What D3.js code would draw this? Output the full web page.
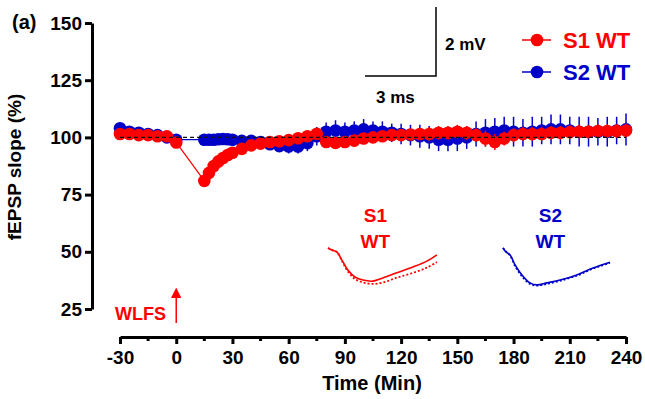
<!DOCTYPE html>
<html lang="en">
<head>
  <meta charset="UTF-8">
  <script src="https://d3js.org/d3.v7.min.js"></script>
  <title>fEPSP slope</title>
  <style>
    body { margin: 0; background: #fff; }
    text { font-family: "Liberation Sans", Arial, sans-serif; font-weight: bold; }
  </style>
</head>
<body>
  <svg id="chart" width="645" height="399"></svg>
  <script>
    // time points (min)
    const times = [-30, -25, -20, -15, -10, -5, 0,
      15, 17.5, 20, 22.5, 25, 27.5, 30,
      35, 40, 45, 50, 55, 60, 65, 70, 75, 80, 85, 90, 95, 100, 105, 110, 115, 120, 125, 130,
      135, 140, 145, 150, 155, 160, 165, 170, 175, 180, 185, 190, 195, 200, 205, 210, 215, 220,
      225, 230, 235, 240];

    // S1 WT (red)
    const s1Values = [101.5, 101.5, 101, 101, 100.5, 100.5, 97.8,
      81, 84.5, 87.5, 89.5, 91, 92.3, 93.3,
      95, 96.5, 97.3, 98, 98.3, 98.8, 99.6, 100.5, 101.6, 98, 97.6, 98, 98.6, 99.5, 100, 100.5,
      101, 101, 101.3, 101.5, 101.5, 102, 102, 102.5, 102, 101, 99.5, 98, 99.5, 101, 101.5,
      101.5, 101.5, 102, 102, 102.3, 102.5, 102.5, 102.8, 102.8, 102.8, 103];
    const s1Err = [1, 1, 1, 1, 1, 1, 1,
      1.5, 1.5, 1.5, 1.5, 1.5, 1.5, 1.5,
      1.5, 1.5, 1.5, 1.5, 1.5, 1.5, 1.5, 1.5, 2, 2, 2, 2, 2, 2, 2, 2, 2, 2, 2, 2,
      3, 3, 3, 3, 3, 3, 3.5, 3.5, 3, 3, 3, 3, 3, 3, 3, 3, 3, 3, 3, 3, 3, 3];

    // S2 WT (blue)
    const s2Values = [104, 102.5, 102, 101.5, 101, 100, 99,
      99, 99, 99, 99.2, 99.3, 99.2, 99,
      98.5, 98.5, 98, 97, 96.2, 96, 96, 97.5, 100.5, 102.5, 103, 102.5, 103, 103.5, 103, 102.5,
      102, 101.5, 101, 100.5, 100, 99, 99, 99.5, 100, 101.5, 102, 102.5, 103, 102.5, 102,
      102.5, 103, 103.5, 103.5, 103, 102.5, 102.5, 102.5, 102.5, 103, 103.5];
    const s2Err = [2, 1.5, 1.5, 1.5, 1.5, 1.5, 1.5,
      1.5, 1.5, 1.5, 1.5, 1.5, 1.5, 1.5,
      2, 2, 2, 2.5, 2.5, 3, 3, 3.5, 4, 4, 4.5, 4, 4, 4.5, 4, 4.5, 4, 4.5, 4.5, 5,
      5, 5, 5, 5.5, 5, 5.5, 6, 6, 6, 6.5, 6, 6.5, 6, 6.5, 6.5, 6, 6.5, 6.5, 6, 6.5, 6, 7];

    const xTicks = [-30, 0, 30, 60, 90, 120, 150, 180, 210, 240];
    const xMinorTicks = [-15, 15, 45, 75, 105, 135, 165, 195, 225];
    const yTicks = [25, 50, 75, 100, 125, 150];

    // example traces (ms, mV) for the insets
    const s1TraceT = [0, 0.17, 0.38, 0.59, 0.84, 1.14, 1.48, 1.9, 2.32, 2.91, 3.59, 4.18, 4.6];
    const s1TraceBefore = [0, -0.06, -0.12, -0.35, -0.64, -0.84, -0.93, -0.96, -0.87, -0.72, -0.55, -0.38, -0.2];
    const s1TraceAfter = [0, -0.06, -0.12, -0.38, -0.68, -0.9, -1.0, -1.04, -1.0, -0.86, -0.72, -0.57, -0.41];
    const s2TraceT = [0, 0.13, 0.3, 0.51, 0.8, 1.14, 1.43, 1.86, 2.41, 3.12, 3.8, 4.52];
    const s2TraceBefore = [0, -0.12, -0.2, -0.49, -0.78, -1.01, -1.07, -1.01, -0.93, -0.78, -0.58, -0.41];
    const s2TraceAfter = [0, -0.1, -0.22, -0.52, -0.82, -1.04, -1.09, -1.04, -0.95, -0.8, -0.6, -0.43];

    const red = "#ff0000";
    const blue = "#0000c8";

    const svg = d3.select("#chart");

    const xScale = d3.scaleLinear().domain([-30, 240]).range([120, 626]);
    const yScale = d3.scaleLinear().domain([25, 150]).range([309, 23]);

    // Y axis
    const yAxis = svg.append("g")
      .attr("transform", "translate(92,0)")
      .call(d3.axisLeft(yScale).tickValues(yTicks).tickSize(7).tickPadding(3).tickSizeOuter(0));
    yAxis.select(".domain").attr("stroke", "#000").attr("stroke-width", 3);
    yAxis.selectAll(".tick line").attr("stroke", "#000").attr("stroke-width", 3);
    yAxis.selectAll(".tick text").attr("font-size", 19).attr("fill", "#000")
      .style("font-family", "'Liberation Sans', Arial, sans-serif").style("font-weight", "bold");

    // X axis
    const xAxis = svg.append("g")
      .attr("transform", "translate(0,337)")
      .call(d3.axisBottom(xScale).tickValues(xTicks).tickFormat(d => String(d))
        .tickSize(7).tickPadding(7).tickSizeOuter(0));
    xAxis.select(".domain").attr("stroke", "#000").attr("stroke-width", 3);
    xAxis.selectAll(".tick line").attr("stroke", "#000").attr("stroke-width", 3);
    xAxis.selectAll(".tick text").attr("font-size", 19).attr("fill", "#000")
      .style("font-family", "'Liberation Sans', Arial, sans-serif").style("font-weight", "bold");
    svg.append("g").selectAll("line").data(xMinorTicks).join("line")
      .attr("x1", d => xScale(d)).attr("x2", d => xScale(d))
      .attr("y1", 337).attr("y2", 341)
      .attr("stroke", "#000").attr("stroke-width", 3);

    // axis titles
    svg.append("text").attr("x", 372).attr("y", 390).attr("text-anchor", "middle")
      .attr("font-size", 20).text("Time (Min)");
    svg.append("text").attr("transform", "translate(21,167) rotate(-90)")
      .attr("text-anchor", "middle").attr("font-size", 19).text("fEPSP slope (%)");
    svg.append("text").attr("x", 12).attr("y", 29).attr("font-size", 20).text("(a)");

    // series
    const s1 = times.map((t, i) => ({ t: t, v: s1Values[i], e: s1Err[i] }));
    const s2 = times.map((t, i) => ({ t: t, v: s2Values[i], e: s2Err[i] }));

    const lineGen = d3.line().x(d => xScale(d.t)).y(d => yScale(d.v));

    function drawSeries(data, color) {
      const g = svg.append("g");
      g.selectAll("line.err").data(data).join("line")
        .attr("class", "err")
        .attr("x1", d => xScale(d.t)).attr("x2", d => xScale(d.t))
        .attr("y1", d => yScale(d.v - d.e)).attr("y2", d => yScale(d.v + d.e))
        .attr("stroke", color).attr("stroke-width", 1.5);
      g.append("path").attr("d", lineGen(data))
        .attr("fill", "none").attr("stroke", color).attr("stroke-width", 1.3);
      g.selectAll("circle").data(data).join("circle")
        .attr("cx", d => xScale(d.t)).attr("cy", d => yScale(d.v))
        .attr("r", 6.3).attr("fill", color);
    }
    drawSeries(s2, blue);
    drawSeries(s1, red);

    // reference line at 100 %
    svg.append("line")
      .attr("x1", xScale(-30)).attr("x2", xScale(240))
      .attr("y1", yScale(100)).attr("y2", yScale(100))
      .attr("stroke", "#111").attr("stroke-width", 1.3).attr("stroke-dasharray", "4,3");

    // WLFS marker
    svg.append("defs").append("marker")
      .attr("id", "arrow").attr("viewBox", "0 0 10 10").attr("refX", 2).attr("refY", 5)
      .attr("markerWidth", 7).attr("markerHeight", 7).attr("orient", "auto")
      .append("path").attr("d", "M0,0L10,5L0,10z").attr("fill", red);
    svg.append("line")
      .attr("x1", xScale(0)).attr("x2", xScale(0)).attr("y1", 323).attr("y2", 296)
      .attr("stroke", red).attr("stroke-width", 1.5).attr("marker-end", "url(#arrow)");
    svg.append("text").attr("x", 115).attr("y", 320).attr("font-size", 18)
      .attr("fill", red).text("WLFS");

    // scale bar (3 ms, 2 mV)
    const msPx = 71 / 3;
    const mvPx = 69 / 2;
    const barX = d3.scaleLinear().domain([0, 3]).range([365, 365 + 3 * msPx]);
    const barY = d3.scaleLinear().domain([0, 2]).range([76, 76 - 2 * mvPx]);
    svg.append("path")
      .attr("d", `M${barX(0)},${barY(0)}H${barX(3)}V${barY(2)}`)
      .attr("fill", "none").attr("stroke", "#000").attr("stroke-width", 1.5);
    svg.append("text").attr("x", 445).attr("y", 50).attr("font-size", 17).text("2 mV");
    svg.append("text").attr("x", 376).attr("y", 103).attr("font-size", 17).text("3 ms");

    // legend
    const legend = svg.append("g");
    [{ name: "S1 WT", color: red, y: 40 }, { name: "S2 WT", color: blue, y: 72 }].forEach(item => {
      legend.append("line").attr("x1", 522).attr("x2", 551).attr("y1", item.y).attr("y2", item.y)
        .attr("stroke", item.color).attr("stroke-width", 1.5);
      legend.append("circle").attr("cx", 537).attr("cy", item.y).attr("r", 6.3).attr("fill", item.color);
      legend.append("text").attr("x", 563).attr("y", item.y + 8).attr("font-size", 22)
        .attr("fill", item.color).text(item.name);
    });

    // inset traces
    function drawInset(x0, y0, tt, before, after, color, label) {
      const tx = d3.scaleLinear().domain([0, 1]).range([x0, x0 + msPx]);
      const ty = d3.scaleLinear().domain([0, 1]).range([y0, y0 - mvPx]);
      const tl = d3.line().x(d => tx(d[0])).y(d => ty(d[1])).curve(d3.curveCatmullRom);
      svg.append("path").attr("d", tl(tt.map((t, i) => [t, after[i]])))
        .attr("fill", "none").attr("stroke", color).attr("stroke-width", 1.8)
        .attr("stroke-dasharray", "2,2");
      svg.append("path").attr("d", tl(tt.map((t, i) => [t, before[i]])))
        .attr("fill", "none").attr("stroke", color).attr("stroke-width", 1.6);
      svg.append("text").attr("x", tx(2.0)).attr("y", 222).attr("text-anchor", "middle")
        .attr("font-size", 19).attr("fill", color).text(label);
      svg.append("text").attr("x", tx(2.0)).attr("y", 248).attr("text-anchor", "middle")
        .attr("font-size", 19).attr("fill", color).text("WT");
    }
    drawInset(328, 248, s1TraceT, s1TraceBefore, s1TraceAfter, red, "S1");
    drawInset(503, 248, s2TraceT, s2TraceBefore, s2TraceAfter, blue, "S2");
  </script>
</body>
</html>
